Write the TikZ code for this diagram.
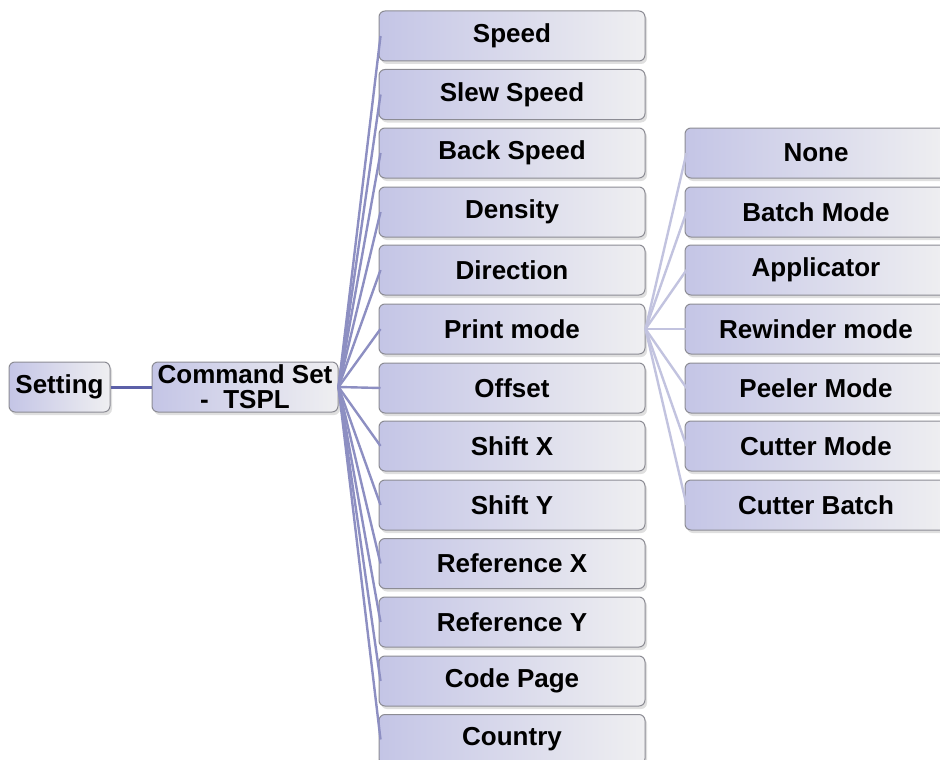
\documentclass[tikz,border=0pt]{standalone}
\usepackage{fontspec}
\setmainfont{Liberation Sans}
\usetikzlibrary{shadows}
\definecolor{lav}{HTML}{C4C5E6}
\definecolor{lgray}{HTML}{EFEFF1}
\definecolor{edgec}{HTML}{8C8C94}
\definecolor{linkA}{HTML}{5C60A8}
\definecolor{linkB}{HTML}{8D8FC2}
\definecolor{linkC}{HTML}{C2C3DF}
\tikzset{
  box/.style={draw=edgec, line width=1pt, rounded corners=6pt, left color=lav, right color=lgray,
    drop shadow={shadow xshift=2pt, shadow yshift=-3pt, opacity=0.25},
    font=\fontsize{26}{25}\selectfont\bfseries, align=center, inner sep=0pt},
  itembox/.style={box, minimum width=266pt, minimum height=50pt},
  subbox/.style={box, minimum width=262pt, minimum height=50pt},
  linkmain/.style={draw=linkA, line width=3pt},
  linkcol/.style={draw=linkB, line width=2.4pt},
  linksub/.style={draw=linkC, line width=2.4pt}
}
\begin{document}
\begin{tikzpicture}[x=1pt,y=-1pt]
\useasboundingbox (0,0) rectangle (940,760);
\node[box, minimum width=101pt, minimum height=50pt] (setting) at (59.5,387) {Setting};
\node[box, minimum width=186pt, minimum height=50pt] (cmd) at (245,387) {Command Set\\ -\ \ TSPL};
\foreach \n/\t/\y in {i1/Speed/36, i2/Slew Speed/94.5, i3/Back Speed/153, i4/Density/212, i5/Direction/270, i6/Print mode/329, i7/Offset/388, i8/Shift X/446, i9/Shift Y/505, i10/Reference X/563.5, i11/Reference Y/622, i12/Code Page/681, i13/Country/739.5}
  \node[itembox] (\n) at (512,\y) {\t};
\foreach \n/\t/\y in {s1/None/153, s2/Batch Mode/212, s3/Applicator/270, s4/Rewinder mode/329, s5/Peeler Mode/388, s6/Cutter Mode/446, s7/Cutter Batch/505}
  \node[subbox] (\n) at (816,\y) {\t};
\draw[linkmain] (setting.east) -- (cmd.west);
\foreach \n in {i1,i2,i3,i4,i5,i6,i7,i8,i9,i10,i11,i12,i13}
  \draw[linkcol] (cmd.east) -- ([xshift=2pt]\n.west);
\foreach \n in {s1,s2,s3,s4,s5,s6,s7}
  \draw[linksub] (i6.east) -- ([xshift=2pt]\n.west);
\end{tikzpicture}
\end{document}
